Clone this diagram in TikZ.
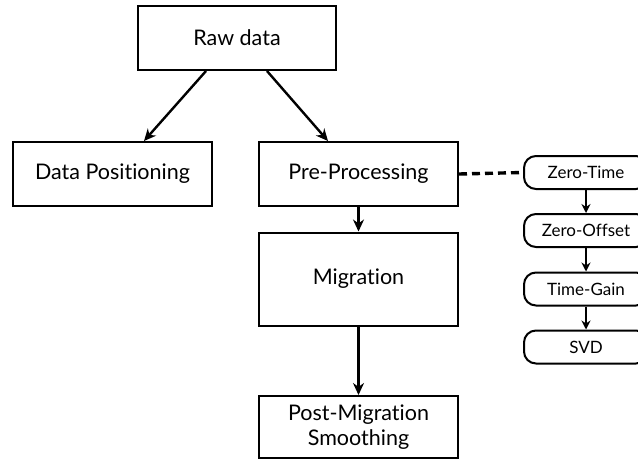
\documentclass[tikz,border=0pt]{standalone}
\usepackage{fontspec}
\setmainfont{Lato}[Ligatures=NoCommon]
\usetikzlibrary{arrows.meta}
\begin{document}
\begin{tikzpicture}[x=1pt,y=-1pt,
  stage/.style={draw,line width=2pt,inner sep=0pt,font=\fontsize{21.5}{25}\selectfont,align=center},
  substep/.style={draw,line width=2pt,rounded corners=12pt,inner sep=0pt,minimum width=124pt,minimum height=33pt,font=\fontsize{17}{19}\selectfont},
  flow/.style={line width=2.4pt,-{Stealth[length=12pt,width=11pt]}},
  subflow/.style={line width=2.4pt,-{Stealth[length=9pt,width=9pt]}}]
\useasboundingbox (0,0) rectangle (638,464);
\clip (0,0) rectangle (638,464);

% main processing chain
\node[stage,minimum width=198pt,minimum height=64pt] (raw) at (237,38) {Raw data};
\node[stage,minimum width=199pt,minimum height=64pt] (pos) at (112.5,174) {Data Positioning};
\node[stage,minimum width=199pt,minimum height=64pt] (pre) at (358.5,174) {Pre-Processing};
\node[stage,minimum width=199pt,minimum height=93pt] (mig) at (358.5,279) {Migration};
\node[stage,minimum width=199pt,minimum height=62pt] (post) at (358.5,427) {Post-Migration\\Smoothing};

% pre-processing sub-steps
\node[substep] (zt) at (586,172.5) {Zero-Time};
\node[substep] (zo) at (586,230.5) {Zero-Offset};
\node[substep] (tg) at (586,289) {Time-Gain};
\node[substep] (svd) at (586,347) {SVD};

\draw[flow] (raw.south -| 206,0) -- (pos.north -| 144,0);
\draw[flow] (raw.south -| 267,0) -- (pre.north -| 328,0);
\draw[flow] (pre) -- (mig);
\draw[flow] (mig) -- (post);

\draw[line width=3.4pt,dash pattern=on 8pt off 5pt] (pre.east) -- (zt.west);
\draw[subflow] (zt) -- (zo);
\draw[subflow] (zo) -- (tg);
\draw[subflow] (tg) -- (svd);
\end{tikzpicture}
\end{document}
